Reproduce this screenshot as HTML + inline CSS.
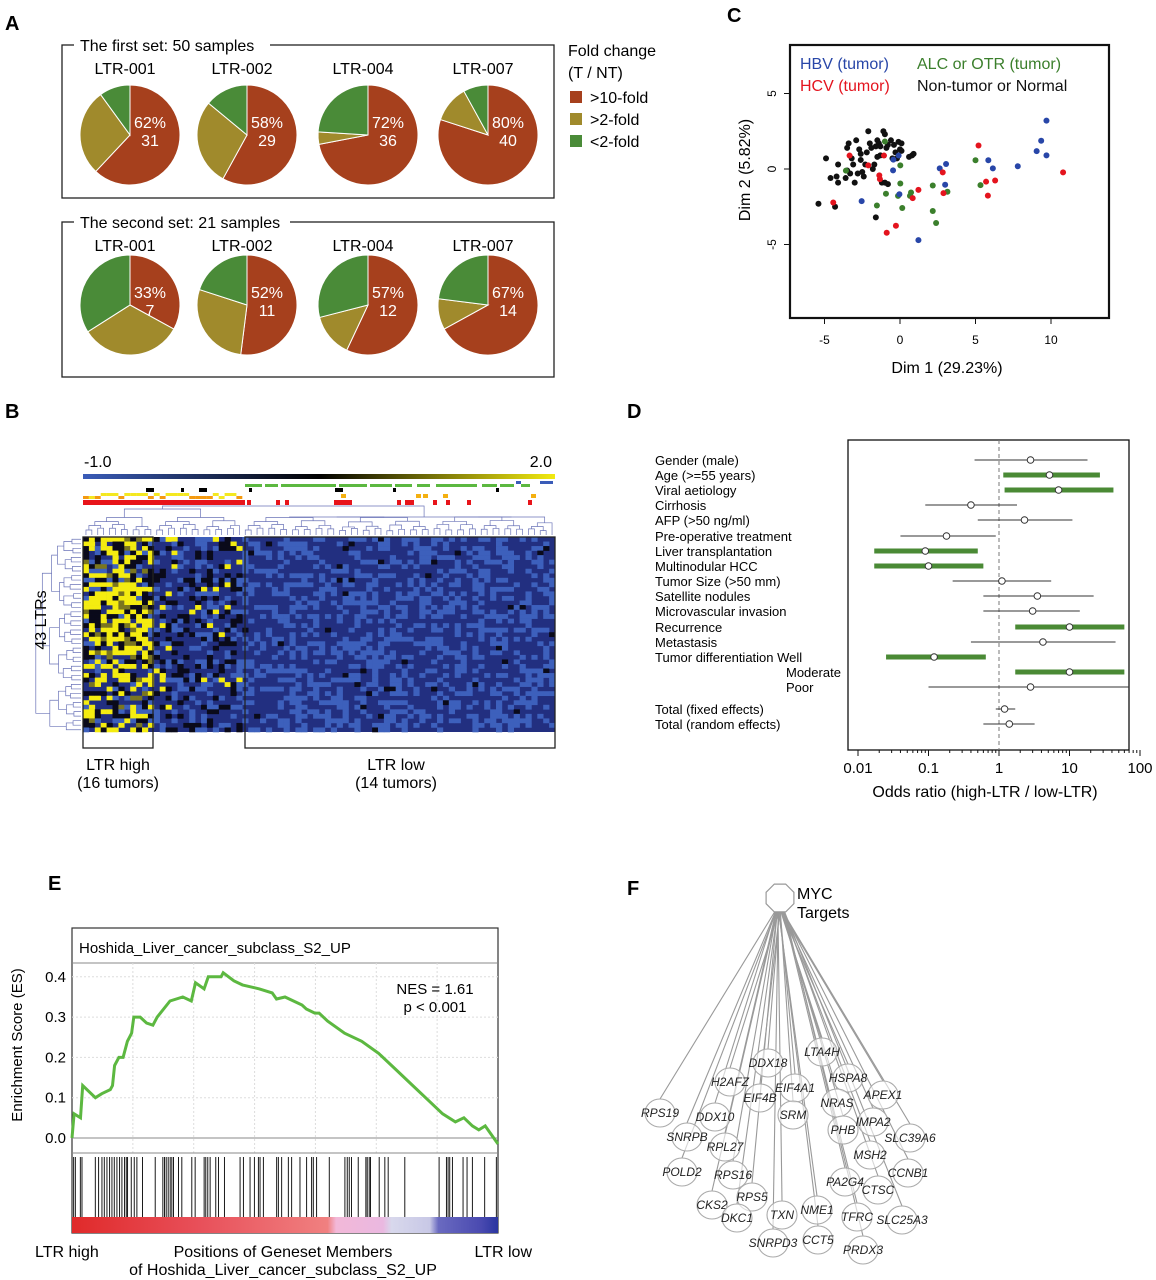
<!DOCTYPE html>
<html><head><meta charset="utf-8"><style>
html,body{margin:0;padding:0;background:#fff}
svg{display:block;font-family:"Liberation Sans",Arial,sans-serif}
</style></head><body>
<svg id="fig" width="1156" height="1280" viewBox="0 0 1156 1280" xmlns="http://www.w3.org/2000/svg">
<defs>
<linearGradient id="cbar" x1="0" x2="1" y1="0" y2="0"><stop offset="0" stop-color="#3a5cb8"/><stop offset="0.5" stop-color="#000"/><stop offset="1" stop-color="#f2ea10"/></linearGradient>
<linearGradient id="rankbar" x1="0" x2="1" y1="0" y2="0"><stop offset="0" stop-color="#e02a2a"/><stop offset="0.3" stop-color="#e8505a"/><stop offset="0.6" stop-color="#f08080"/><stop offset="0.62" stop-color="#f2b8d8"/><stop offset="0.73" stop-color="#eab8e0"/><stop offset="0.75" stop-color="#d8d8ec"/><stop offset="0.84" stop-color="#c8c8e6"/><stop offset="0.86" stop-color="#6a6ac0"/><stop offset="0.96" stop-color="#4a4ab0"/><stop offset="1" stop-color="#2a35a0"/></linearGradient>
</defs>
<g font-weight="bold" font-size="20" fill="#000">
<text x="5" y="30">A</text>
<text x="5" y="418">B</text>
<text x="727" y="22">C</text>
<text x="627" y="418">D</text>
<text x="48" y="890">E</text>
<text x="627" y="895">F</text>
</g>
<g id="A"></g><g id="B"></g><g id="C"></g><g id="D"></g><g id="E"></g><g id="F"></g>
</svg>
<script>
// ---------- Panel A data ----------
const pieGenes = ['LTR-001','LTR-002','LTR-004','LTR-007'];
const set1Red = [62,58,72,80];
const set1Olive = [28,28,4,12];
const set1Green = [10,14,24,8];
const set1Counts = [31,29,36,40];
const set2Red = [33,52,57,67];
const set2Olive = [33,28,14,10];
const set2Green = [34,20,29,23];
const set2Counts = [7,11,12,14];
// ---------- Panel C data ----------
const hbvX=[9.7,9.35,9.05,9.7,7.8,5.85,6.15,3.05,2.63,2.99,1.22,-2.54,-0.44,-0.09,-0.46,-0.04];
const hbvY=[3.2,1.87,1.18,0.9,0.18,0.58,0.04,0.33,0.04,-1.04,-4.71,-2.13,0.62,0.89,-0.09,-1.67];
const hcvX=[10.8,5.2,5.7,6.3,5.82,2.83,2.88,1.22,0.84,-0.27,-0.88,-4.42,-3.34,-2.1,-1.06,-1.37,-1.33];
const hcvY=[-0.22,1.56,-0.84,-0.76,-1.76,-0.22,-1.6,-1.38,-1.93,-3.76,-4.22,-2.22,0.89,0.24,0.89,-0.42,-0.67];
const alcX=[5.0,5.33,3.14,2.17,2.17,2.39,0.73,0.66,0.15,-0.13,0.02,0.02,-0.93,-1.53,-1.0,-3.58];
const alcY=[0.58,-1.07,-1.51,-1.09,-2.78,-3.58,-1.56,-1.78,-2.58,-1.78,-0.96,0.24,-1.64,-2.42,1.82,-0.11];
const ntX=[-5.4,-4.3,-4.9,-4.6,-4.2,-4.1,-4.1,-3.6,-3.5,-3.5,-3.4,-3.2,-3.1,-3.0,-2.9,-2.8,-2.7,-2.6,-2.5,-2.4,-2.3,-2.2,-2.1,-2.0,-1.9,-1.8,-1.7,-1.6,-1.6,-1.5,-1.5,-1.4,-1.3,-1.2,-1.1,-1.0,-1.0,-0.9,-0.8,-0.8,-0.6,-0.5,-0.4,-0.3,-0.2,-0.1,0.0,0.1,0.1,0.6,0.8,0.9,-1.3,-2.6,-3.3];
const ntY=[-2.3,-2.5,0.7,-0.6,-0.5,-0.9,0.3,-0.6,-0.1,1.4,1.7,0.7,0.3,-0.9,1.9,-0.3,1.3,0.6,-0.2,-0.5,0.3,1.1,2.5,1.7,1.4,0.0,0.3,1.5,-3.2,1.9,0.8,1.7,1.5,-0.9,2.5,2.3,-0.9,1.4,1.6,-1.0,1.9,0.7,1.6,1.1,0.7,1.8,1.3,1.7,1.2,0.8,0.9,1.0,0.9,1.0,-0.3];
const cXTicks=[-5,0,5,10];
const cYTicks=[5,0,-5];
// ---------- Panel D data ----------
const dLabels=['Gender (male)','Age (>=55 years)','Viral aetiology','Cirrhosis','AFP (>50 ng/ml)','Pre-operative treatment','Liver transplantation','Multinodular HCC','Tumor Size (>50 mm)','Satellite nodules','Microvascular invasion','Recurrence','Metastasis','Tumor differentiation  Well','Moderate','Poor','Total (fixed effects)','Total (random effects)'];
const dOR=[2.8,5.2,7,0.4,2.3,0.18,0.09,0.1,1.1,3.5,3,10,4.2,0.12,10,2.8,1.2,1.4];
const dLo=[0.45,1.15,1.2,0.09,0.5,0.04,0.017,0.017,0.22,0.6,0.6,1.7,0.4,0.025,1.7,0.1,0.9,0.6];
const dHi=[18,27,42,1.8,11,0.9,0.5,0.6,5.5,22,14,60,45,0.65,60,70,1.7,3.2];
const dSig=[0,1,1,0,0,0,1,1,0,0,0,1,0,1,1,0,0,0];
const dTicks=[0.01,0.1,1,10,100];
const dTickLabels=['0.01','0.1','1','10','100'];
// ---------- Panel E data ----------
const esRank=[0,0.005,0.02,0.025,0.055,0.07,0.09,0.095,0.1,0.11,0.12,0.13,0.14,0.145,0.16,0.175,0.19,0.2,0.23,0.26,0.28,0.29,0.31,0.32,0.35,0.355,0.38,0.4,0.44,0.47,0.48,0.5,0.54,0.55,0.57,0.58,0.6,0.64,0.68,0.72,0.76,0.8,0.84,0.87,0.9,0.92,0.94,0.955,0.97,0.98,1.0];
const esVal=[0,0.06,0.05,0.13,0.10,0.11,0.12,0.13,0.18,0.2,0.2,0.24,0.26,0.3,0.3,0.285,0.28,0.3,0.34,0.35,0.34,0.385,0.37,0.4,0.4,0.41,0.39,0.38,0.37,0.36,0.345,0.35,0.33,0.32,0.31,0.31,0.29,0.26,0.24,0.21,0.17,0.13,0.09,0.06,0.04,0.05,0.03,0.02,0.03,0.015,-0.015];
const esTicks=[0,0.1,0.2,0.3,0.4];
const hitRanks=[5,10,25,30,70,80,90,97,105,113,120,127,135,143,150,158,163,167,178,187,195,212,250,273,278,283,289,295,300,305,320,330,360,370,397,402,408,415,432,440,458,505,515,535,548,560,565,575,615,620,630,650,660,685,705,720,725,735,773,820,827,833,840,860,883,887,893,897,923,940,950,1000,1103,1125,1130,1135,1143,1175,1187,1203,1240,1275];
const rankTotal=1280;
// ---------- Panel F data ----------
const fNames=['RPS19','DDX10','SNRPB','RPL27','POLD2','RPS16','CKS2','RPS5','DKC1','TXN','SNRPD3','NME1','CCT5','H2AFZ','DDX18','EIF4B','EIF4A1','SRM','LTA4H','HSPA8','NRAS','APEX1','PHB','IMPA2','SLC39A6','MSH2','CCNB1','PA2G4','CTSC','TFRC','SLC25A3','PRDX3'];
const fX=[660,715,687,725,682,733,712,752,737,782,773,817,818,730,768,760,795,793,822,848,837,883,843,873,910,870,908,845,878,857,902,863];
const fY=[1113,1117,1137,1147,1172,1175,1205,1197,1218,1215,1243,1210,1240,1082,1063,1098,1088,1115,1052,1078,1103,1095,1130,1122,1138,1155,1173,1182,1190,1217,1220,1250];

const NS='http://www.w3.org/2000/svg';
function mk(parent,tag,attrs,txt){const e=document.createElementNS(NS,tag);for(const k in attrs)e.setAttribute(k,attrs[k]);if(txt!==undefined)e.textContent=txt;parent.appendChild(e);return e;}

// ===== Panel A =====
const A=document.getElementById('A');
const pieCX=[130,247,368,488];
const pieColors=['#a6401d','#a08a2c','#4a8b38'];
function drawSet(boxY,boxH,title,titleW,reds,olives,greens,counts,cy,labY,setName){
  const box=mk(A,'rect',{x:62,y:boxY,width:492,height:boxH,fill:'none',stroke:'#222','stroke-width':1.3});
  
  
  mk(A,'rect',{x:74,y:boxY-9,width:titleW,height:18,fill:'#fff'});
  const t=mk(A,'text',{x:80,y:boxY+6,'font-size':16},title);
  
  
  const r=50;
  for(let i=0;i<4;i++){
    const cx=pieCX[i];
    const lab=mk(A,'text',{x:cx-5,y:labY,'font-size':16,'text-anchor':'middle'},pieGenes[i]);
    
    
    const vals=[reds[i],olives[i],greens[i]];const tot=vals[0]+vals[1]+vals[2];
    let a=-Math.PI/2;
    vals.forEach((v,k)=>{
      const a2=a+v/tot*2*Math.PI;
      const large=(a2-a)>Math.PI?1:0;
      const p=`M${cx},${cy} L${cx+r*Math.cos(a)},${cy+r*Math.sin(a)} A${r},${r} 0 ${large} 1 ${cx+r*Math.cos(a2)},${cy+r*Math.sin(a2)} Z`;
      const s=mk(A,'path',{d:p,fill:pieColors[k],stroke:'#fff','stroke-width':1});
      
      
      a=a2;
    });
    const tx=cx+20;
    mk(A,'text',{x:tx,y:cy-7,'font-size':16,fill:'#fff','text-anchor':'middle'},reds[i]+'%');
    mk(A,'text',{x:tx,y:cy+11,'font-size':16,fill:'#fff','text-anchor':'middle'},counts[i]);
  }
}
drawSet(45,153,'The first set: 50 samples',196,set1Red,set1Olive,set1Green,set1Counts,135,74,'first-set');
drawSet(222,155,'The second set: 21 samples',216,set2Red,set2Olive,set2Green,set2Counts,305,251,'second-set');
mk(A,'text',{x:568,y:56,'font-size':16},'Fold change');
mk(A,'text',{x:568,y:78,'font-size':16},'(T / NT)');
const legLabels=['>10-fold','>2-fold','<2-fold'];
legLabels.forEach((l,i)=>{
  const g=mk(A,'g',{});
  
  
  mk(g,'rect',{x:570,y:91+i*22,width:12,height:12,fill:pieColors[i]});
  mk(g,'text',{x:590,y:103+i*22,'font-size':16},l);
});

// ===== Panel B =====
const B=document.getElementById('B');
const hx0=83,hx1=555,hy0=537,hy1=732,nCols=80,nRows=43;
const cw=(hx1-hx0)/nCols,ch=(hy1-hy0)/nRows;
mk(B,'rect',{x:hx0,y:474,width:hx1-hx0,height:5,fill:'url(#cbar)'});
mk(B,'text',{x:84,y:467,'font-size':16},'-1.0');
mk(B,'text',{x:552,y:467,'font-size':16,'text-anchor':'end'},'2.0');
function hsh(i,j){let h=(i*374761393+j*668265263)^0x5bd1e995;h=(h^(h>>>13))*1274126177;h=h^(h>>>16);return (h>>>0)/4294967296;}
function cellColor(v){
  if(v<-0.75) return '#3d60bc';
  if(v<-0.3) return '#222f80';
  if(v<0.3) return '#0a0a1a';
  if(v<0.8) return '#202010';
  if(v<1.3) return '#7a7620';
  return '#f4ec10';
}
const heat=mk(B,'g',{});


mk(heat,'rect',{x:hx0,y:hy0,width:hx1-hx0,height:hy1-hy0,fill:'#222f80'});
for(let c=0;c<nCols;c++){for(let r=0;r<nRows;r++){
  const h=hsh(c,r);let v;
  if(c<12){const hot=(r<26)?0.45:0.3; v=h<hot?1.6:(h<hot+0.2?0.1:(h<hot+0.28?1.0:(h<hot+0.4?-0.9:-0.5)));}
  else if(c<27){v=h<0.05?1.6:(h<0.25?0.1:(h<0.5?-0.9:-0.5));}
  else {v=h<0.015?0.1:(h<0.38?-0.9:-0.5);}
  const col=cellColor(v);
  if(col==='#222f80')continue;
  const cell=mk(heat,'rect',{x:(hx0+c*cw).toFixed(2),y:(hy0+r*ch).toFixed(2),width:(cw+0.3).toFixed(2),height:(ch+0.3).toFixed(2),fill:col});
  
  
}}
// annotation rows
const annGreen=[[245,262],[265,278],[281,336],[339,367],[370,392],[395,412],[417,430],[436,477],[482,497],[500,514],[521,530]];
annGreen.forEach(s=>mk(B,'rect',{x:s[0],y:484,width:s[1]-s[0],height:3,fill:'#5cb840'}));
[[516,521],[540,553]].forEach(s=>mk(B,'rect',{x:s[0],y:481,width:s[1]-s[0],height:3,fill:'#3a5cb8'}));
[[146,154],[181,184],[199,207],[249,252],[335,343],[393,396],[496,499]].forEach(s=>mk(B,'rect',{x:s[0],y:488,width:s[1]-s[0],height:4,fill:'#000'}));
for(let c=0;c<27;c++){const h=hsh(c,99);mk(B,'rect',{x:hx0+c*cw,y:h<0.5?493:496,width:cw,height:3,fill:h<0.7?'#f4e820':'#f49a10'});}
[[341,344],[423,426],[416,419],[443,446],[531,534]].forEach(s=>mk(B,'rect',{x:s[0],y:494,width:5,height:4,fill:'#f4b010'}));
mk(B,'rect',{x:83,y:500,width:162,height:5,fill:'#e8141a'});
[[247,251],[276,280],[285,289],[334,352],[397,401],[405,414],[433,437],[446,450],[467,471],[528,532]].forEach(s=>mk(B,'rect',{x:s[0],y:500,width:s[1]-s[0],height:5,fill:'#e8141a'}));
// dendrograms
const dg=mk(B,'g',{stroke:'#6b74b8','stroke-width':0.7,fill:'none'});


function dendTop(lo,hi,yTop){let nodes=[];for(let c=lo;c<hi;c++)nodes.push({x:hx0+(c+0.5)*cw,y:535});let lvl=0;
  while(nodes.length>1){lvl++;const nn=[];for(let i=0;i<nodes.length;i+=2){if(i+1<nodes.length){const a=nodes[i],b=nodes[i+1];const y=Math.max(yTop,535-lvl*4-(hsh(i,lvl)*3));mk(dg,'path',{d:`M${a.x},${a.y}V${y}H${b.x}V${b.y}`});nn.push({x:(a.x+b.x)/2,y:y});}else nn.push(nodes[i]);}nodes=nn;}
  return nodes[0];}
const t1=dendTop(0,12,512),t2=dendTop(12,27,514),t3=dendTop(27,80,517);
mk(dg,'path',{d:`M${t1.x},${t1.y}V509H${t2.x}V${t2.y}`});
mk(dg,'path',{d:`M${(t1.x+t2.x)/2},509V506H${t3.x}V${t3.y}`});
const dl=mk(B,'g',{stroke:'#6b74b8','stroke-width':0.7,fill:'none'});


{let nodes=[];for(let r=0;r<nRows;r++)nodes.push({x:81,y:hy0+(r+0.5)*ch});let lvl=0;
 while(nodes.length>1){lvl++;const nn=[];for(let i=0;i<nodes.length;i+=2){if(i+1<nodes.length){const a=nodes[i],b=nodes[i+1];const x=81-lvl*7-hsh(i,lvl+7)*4;mk(dl,'path',{d:`M${a.x},${a.y}H${x}V${b.y}H${b.x}`});nn.push({x:x,y:(a.y+b.y)/2});}else nn.push(nodes[i]);}nodes=nn;}}
const boxH=mk(B,'rect',{x:83,y:537,width:70,height:211,fill:'none',stroke:'#222','stroke-width':1.3});


const boxL=mk(B,'rect',{x:245,y:537,width:310,height:211,fill:'none',stroke:'#222','stroke-width':1.3});


mk(B,'text',{x:46,y:620,'font-size':16,'text-anchor':'middle',transform:'rotate(-90 46 620)'},'43 LTRs');
mk(B,'text',{x:118,y:770,'font-size':16,'text-anchor':'middle'},'LTR high');
mk(B,'text',{x:118,y:788,'font-size':16,'text-anchor':'middle'},'(16 tumors)');
mk(B,'text',{x:396,y:770,'font-size':16,'text-anchor':'middle'},'LTR low');
mk(B,'text',{x:396,y:788,'font-size':16,'text-anchor':'middle'},'(14 tumors)');

// ===== Panel C =====
const C=document.getElementById('C');
const cx0=900,cy0=169,cs=15.1;
const sxC=v=>cx0+v*cs, syC=v=>cy0-v*cs;
const pbox=mk(C,'rect',{x:790,y:45,width:319,height:273,fill:'none',stroke:'#111','stroke-width':2.2});


cXTicks.forEach(t=>{mk(C,'line',{x1:sxC(t),x2:sxC(t),y1:318,y2:324,stroke:'#111'});mk(C,'text',{x:sxC(t),y:344,'font-size':12,'text-anchor':'middle'},t);});
cYTicks.forEach(t=>{mk(C,'line',{x1:784,x2:790,y1:syC(t),y2:syC(t),stroke:'#111'});mk(C,'text',{x:776,y:syC(t),'font-size':12,'text-anchor':'middle',transform:`rotate(-90 776 ${syC(t)})`},t);});
mk(C,'text',{x:947,y:373,'font-size':16,'text-anchor':'middle'},'Dim 1 (29.23%)');
mk(C,'text',{x:750,y:170,'font-size':16,'text-anchor':'middle',transform:'rotate(-90 750 170)'},'Dim 2 (5.82%)');
function pts(xs,ys,col,name){xs.forEach((x,i)=>{const p=mk(C,'circle',{cx:sxC(x),cy:syC(ys[i]),r:3,fill:col});
  
  });}
pts(ntX,ntY,'#111','non-tumor-point');
pts(alcX,alcY,'#3b7f2c','alc-otr-point');
pts(hbvX,hbvY,'#2846a8','hbv-point');
pts(hcvX,hcvY,'#e4141e','hcv-point');
mk(C,'text',{x:800,y:69,'font-size':16,fill:'#2846a8'},'HBV (tumor)');
mk(C,'text',{x:917,y:69,'font-size':16,fill:'#3b7f2c'},'ALC or OTR (tumor)');
mk(C,'text',{x:800,y:91,'font-size':16,fill:'#e4141e'},'HCV (tumor)');
mk(C,'text',{x:917,y:91,'font-size':16,fill:'#111'},'Non-tumor or Normal');

// ===== Panel D =====
const D=document.getElementById('D');
const sxD=v=>999+70.5*Math.log10(v);
const dRowY=[460,475,490,505,520,536,551,566,581,596,611,627,642,657,672,687,709,724];
const fbox=mk(D,'rect',{x:848,y:440,width:281,height:310,fill:'none',stroke:'#111','stroke-width':1.3});


mk(D,'line',{x1:sxD(1),x2:sxD(1),y1:440,y2:750,stroke:'#777','stroke-dasharray':'4,3'});
dTicks.forEach((t,i)=>{mk(D,'line',{x1:sxD(t),x2:sxD(t),y1:750,y2:756,stroke:'#111'});mk(D,'text',{x:sxD(t),y:773,'font-size':15,'text-anchor':'middle'},dTickLabels[i]);
  if(i<dTicks.length-1)for(let k=2;k<10;k++){const x=sxD(t*k);mk(D,'line',{x1:x,x2:x,y1:750,y2:753,stroke:'#111'});}});
mk(D,'text',{x:985,y:797,'font-size':16,'text-anchor':'middle'},'Odds ratio (high-LTR / low-LTR)');
dLabels.forEach((l,i)=>{
  const y=dRowY[i];
  let lx=655; if(i===14||i===15)lx=786;
  mk(D,'text',{x:lx,y:y+5,'font-size':13,'xml:space':'preserve'},l);
  const g=mk(D,'g',{});
  
  
  mk(g,'line',{x1:sxD(dLo[i]),x2:sxD(dHi[i]),y1:y,y2:y,stroke:dSig[i]?'#4a8a35':'#333','stroke-width':dSig[i]?5:1.1});
  mk(g,'circle',{cx:sxD(dOR[i]),cy:y,r:3.3,fill:'#fff',stroke:'#333','stroke-width':1});
});

// ===== Panel E =====
const E=document.getElementById('E');
const ex0=72,ex1=498,ey0=1138,eyS=403;
const sxE=f=>ex0+f*(ex1-ex0), syE=v=>ey0-v*eyS;
const ebox=mk(E,'rect',{x:ex0,y:928,width:ex1-ex0,height:305,fill:'none',stroke:'#333','stroke-width':1.2});


mk(E,'line',{x1:ex0,x2:ex1,y1:963,y2:963,stroke:'#888'});
mk(E,'text',{x:79,y:953,'font-size':15},'Hoshida_Liver_cancer_subclass_S2_UP');
for(let k=1;k<7;k++){const x=ex0+k*(ex1-ex0)/7;mk(E,'line',{x1:x,x2:x,y1:963,y2:1153,stroke:'#ddd','stroke-dasharray':'2,2'});}
esTicks.forEach(t=>{mk(E,'line',{x1:ex0,x2:ex1,y1:syE(t),y2:syE(t),stroke:t===0?'#888':'#ddd','stroke-dasharray':t===0?'':'2,2'});mk(E,'text',{x:66,y:syE(t)+5,'font-size':15,'text-anchor':'end'},t.toFixed(1));});
mk(E,'line',{x1:ex0,x2:ex1,y1:1153,y2:1153,stroke:'#888'});
mk(E,'text',{x:22,y:1045,'font-size':15,'text-anchor':'middle',transform:'rotate(-90 22 1045)'},'Enrichment Score (ES)');
const esLine=mk(E,'polyline',{points:esRank.map((r,i)=>sxE(r).toFixed(1)+','+syE(esVal[i]).toFixed(1)).join(' '),fill:'none',stroke:'#5cb840','stroke-width':3});


mk(E,'text',{x:435,y:994,'font-size':15,'text-anchor':'middle'},'NES = 1.61');
mk(E,'text',{x:435,y:1012,'font-size':15,'text-anchor':'middle'},'p < 0.001');
hitRanks.forEach(h=>{const x=sxE(h/rankTotal);const l=mk(E,'line',{x1:x,x2:x,y1:1157,y2:1217,stroke:'#000','stroke-width':0.9});
  
  });
mk(E,'rect',{x:ex0,y:1217,width:ex1-ex0,height:16,fill:'url(#rankbar)'});
mk(E,'text',{x:35,y:1257,'font-size':16},'LTR high');
mk(E,'text',{x:283,y:1257,'font-size':16,'text-anchor':'middle'},'Positions of Geneset Members');
mk(E,'text',{x:283,y:1275,'font-size':16,'text-anchor':'middle'},'of Hoshida_Liver_cancer_subclass_S2_UP');
mk(E,'text',{x:532,y:1257,'font-size':16,'text-anchor':'end'},'LTR low');

// ===== Panel F =====
const F=document.getElementById('F');
const hubX=780,hubY=898;
fNames.forEach((n,i)=>{mk(F,'line',{x1:hubX+(i-16)*0.3,y1:hubY+13,x2:fX[i],y2:fY[i]-14,stroke:'#999','stroke-width':1.1});});
const oct=[];for(let k=0;k<8;k++){const a=Math.PI/8+k*Math.PI/4;oct.push((hubX+15*Math.cos(a)).toFixed(1)+','+(hubY+15*Math.sin(a)).toFixed(1));}
const hub=mk(F,'polygon',{points:oct.join(' '),fill:'#fff',stroke:'#999','stroke-width':1.2});


mk(F,'text',{x:797,y:899,'font-size':16},'MYC');
mk(F,'text',{x:797,y:918,'font-size':16},'Targets');
fNames.forEach((n,i)=>{
  const g=mk(F,'g',{});
  
  
  mk(g,'ellipse',{cx:fX[i],cy:fY[i],rx:15,ry:14,fill:'#fff',stroke:'#aaa','stroke-width':1.1,'fill-opacity':0.6});
  mk(g,'text',{x:fX[i],y:fY[i]+4,'font-size':12,'font-style':'italic','text-anchor':'middle',fill:'#222'},n);
});
</script>
</body></html>
